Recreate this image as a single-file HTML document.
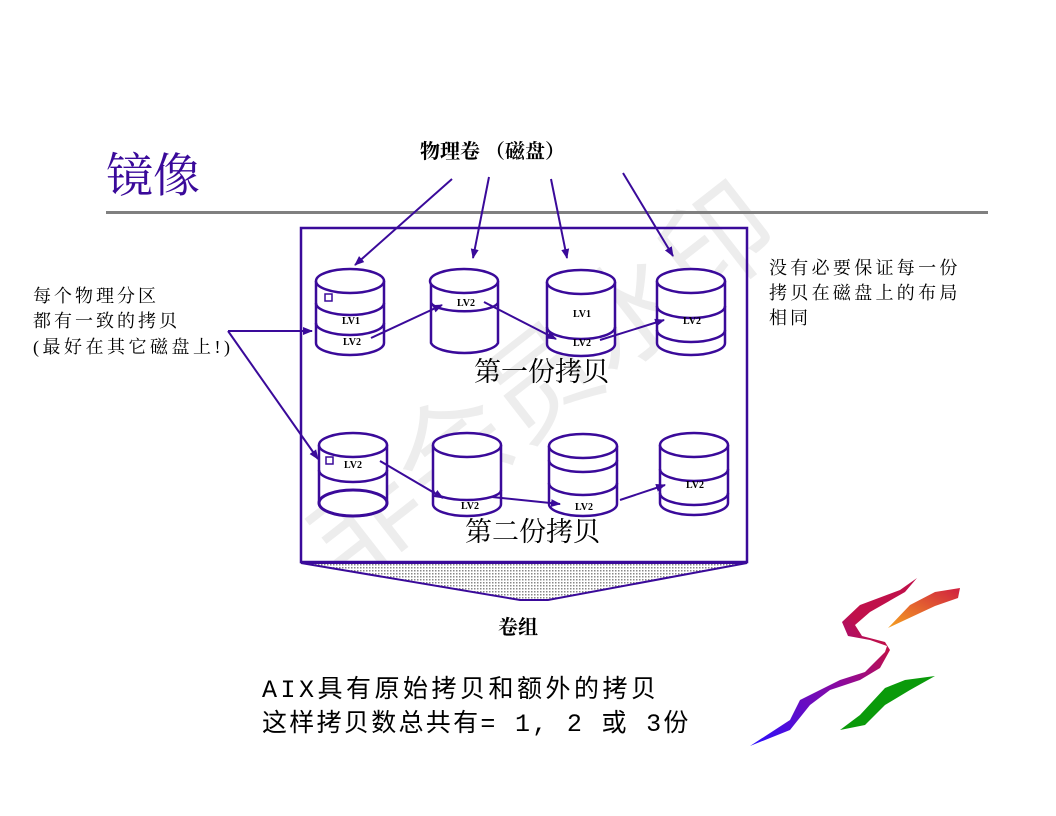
<!DOCTYPE html>
<html><head><meta charset="utf-8"><style>
html,body{margin:0;padding:0;background:#fff;}
svg{display:block;}
text{font-family:"Liberation Serif","Noto Serif CJK SC",serif;}
.s{font-family:"Liberation Sans","Noto Sans CJK SC",sans-serif;}
.lv{font-family:"Liberation Serif",serif;font-size:10px;font-weight:bold;fill:#000;}
</style></head><body>
<svg width="1056" height="816" viewBox="0 0 1056 816" xmlns="http://www.w3.org/2000/svg">
<defs>
<marker id="a" markerWidth="10" markerHeight="10" refX="9" refY="5" orient="auto" markerUnits="userSpaceOnUse">
<path d="M0,1 L10,5 L0,9 Z" fill="#3a0a9a"/></marker>
<pattern id="dots" width="3" height="3" patternUnits="userSpaceOnUse"><rect width="3" height="3" fill="#fff"/><rect width="1.5" height="1.5" fill="#888"/></pattern>
<linearGradient id="g1" x1="0" y1="1" x2="1" y2="0"><stop offset="0" stop-color="#2a10ff"/><stop offset="0.45" stop-color="#8a0aa0"/><stop offset="0.7" stop-color="#c0104a"/><stop offset="1" stop-color="#c0104a"/></linearGradient>
<linearGradient id="g2" x1="0" y1="1" x2="1" y2="0"><stop offset="0" stop-color="#f5a020"/><stop offset="1" stop-color="#d02040"/></linearGradient>
</defs>

<text x="0" y="0" transform="translate(345,585) rotate(-38)" font-size="112" fill="#ededed" class="s">非会员水印</text>

<text x="106" y="192" font-size="47" fill="#3a0a9a">镜像</text>
<rect x="106" y="211" width="882" height="3" fill="#808080"/>

<text x="420" y="158" font-size="20" font-weight="bold" fill="#000">物理卷 （磁盘）</text>
<g stroke="#3a0a9a" stroke-width="2" fill="none" marker-end="url(#a)">
<line x1="452" y1="179" x2="355" y2="265"/>
<line x1="489" y1="177" x2="473" y2="258"/>
<line x1="551" y1="179" x2="567" y2="258"/>
<line x1="623" y1="173" x2="673" y2="256"/>
</g>

<rect x="301" y="228" width="446" height="334" fill="none" stroke="#3a0a9a" stroke-width="2.5"/>
<path d="M301,563 L747,563 L548,600 L520,600 Z" fill="url(#dots)" stroke="#3a0a9a" stroke-width="2"/>

<g font-size="18" fill="#000" letter-spacing="3">
<text x="33" y="302">每个物理分区</text>
<text x="33" y="327">都有一致的拷贝</text>
<text x="33" y="353" letter-spacing="3.5">(最好在其它磁盘上!)</text>
<text x="769" y="274" letter-spacing="3.3">没有必要保证每一份</text>
<text x="769" y="299" letter-spacing="3.3">拷贝在磁盘上的布局</text>
<text x="769" y="324">相同</text>
</g>
<g stroke="#3a0a9a" stroke-width="2" fill="none" marker-end="url(#a)">
<line x1="228" y1="331" x2="312" y2="331"/>
<line x1="228" y1="331" x2="318" y2="459"/>
</g>

<g stroke="#3a0a9a" stroke-width="2.5" fill="#fff">
<path d="M316,281 V343 A34,12 0 0 0 384,343 V281"/><ellipse cx="350" cy="281" rx="34" ry="12"/>
<path d="M316,303 A34,12 0 0 0 384,303 M316,323 A34,12 0 0 0 384,323" fill="none"/>
<path d="M431,281 V343 A34,12 0 0 0 498,343 V281"/><ellipse cx="464" cy="281" rx="34" ry="12"/>
<path d="M431,303 A34,10 0 0 0 498,303" fill="none"/>
<path d="M547,282 V344 A34,12 0 0 0 615,344 V282"/><ellipse cx="581" cy="282" rx="34" ry="12"/>
<path d="M547,327 A34,12 0 0 0 615,327" fill="none"/>
<path d="M657,281 V343 A34,12 0 0 0 725,343 V281"/><ellipse cx="691" cy="281" rx="34" ry="12"/>
<path d="M657,306 A34,12 0 0 0 725,306 M657,330 A34,12 0 0 0 725,330" fill="none"/>
<path d="M319,445 V503 A34,13 0 0 0 387,503 V445"/><ellipse cx="353" cy="445" rx="34" ry="12"/>
<path d="M319,470 A34,12 0 0 0 387,470" fill="none"/>
<ellipse cx="353" cy="503" rx="34" ry="13" fill="none" stroke-width="3"/>
<path d="M433,445 V504 A34,12 0 0 0 501,504 V445"/><ellipse cx="467" cy="445" rx="34" ry="12"/>
<path d="M433,490 A34,10 0 0 0 501,490" fill="none"/>
<path d="M549,446 V504 A34,12 0 0 0 617,504 V446"/><ellipse cx="583" cy="446" rx="34" ry="12"/>
<path d="M549,460 A34,12 0 0 0 617,460 M549,483 A34,12 0 0 0 617,483" fill="none"/>
<path d="M660,445 V503 A34,12 0 0 0 728,503 V445"/><ellipse cx="694" cy="445" rx="34" ry="12"/>
<path d="M660,469 A34,12 0 0 0 728,469 M660,493 A34,12 0 0 0 728,493" fill="none"/>
</g>
<rect x="325" y="294" width="7" height="7" fill="#fff" stroke="#3a0a9a" stroke-width="1.5"/>
<rect x="326" y="457" width="7" height="7" fill="#fff" stroke="#3a0a9a" stroke-width="1.5"/>

<g class="lv">
<text x="342" y="324">LV1</text><text x="343" y="345">LV2</text>
<text x="457" y="306">LV2</text>
<text x="573" y="317">LV1</text><text x="573" y="346">LV2</text>
<text x="683" y="324">LV2</text>
<text x="344" y="468">LV2</text>
<text x="461" y="509">LV2</text>
<text x="575" y="510">LV2</text>
<text x="686" y="488">LV2</text>
</g>

<g stroke="#3a0a9a" stroke-width="2" fill="none" marker-end="url(#a)">
<line x1="371" y1="338" x2="442" y2="305"/>
<line x1="484" y1="302" x2="556" y2="339"/>
<line x1="600" y1="340" x2="664" y2="320"/>
<line x1="380" y1="461" x2="443" y2="498"/>
<line x1="492" y1="497" x2="560" y2="504"/>
<line x1="620" y1="500" x2="665" y2="485"/>
</g>

<text x="474" y="381" font-size="27" fill="#000">第一份拷贝</text>
<text x="465" y="541" font-size="27" fill="#000">第二份拷贝</text>
<text x="498" y="634" font-size="20" font-weight="bold" fill="#000">卷组</text>

<text x="262" y="697" font-size="25" letter-spacing="3.5" fill="#000" style="font-family:'Liberation Mono','Noto Sans CJK SC',monospace">AIX具有原始拷贝和额外的拷贝</text>
<text x="262" y="731" font-size="25" letter-spacing="2.3" fill="#000" style="font-family:'Liberation Mono','Noto Sans CJK SC',monospace">这样拷贝数总共有= 1, 2 或 3份</text>

<path d="M750,746 L790,720 L800,700 L840,680 L865,672 L885,652 L887,646 L870,640 L848,636 L842,622 L860,605 L900,590 L917,578 L905,592 L870,612 L855,625 L862,636 L885,642 L890,650 L880,668 L860,680 L830,690 L810,705 L790,730 Z" fill="url(#g1)"/>
<path d="M888,628 L910,605 L935,592 L960,588 L958,598 L935,606 L905,620 Z" fill="url(#g2)"/>
<path d="M840,730 L860,715 L885,688 L905,680 L935,676 L910,690 L885,705 L865,725 Z" fill="#0a9a0a"/>
</svg>
</body></html>
